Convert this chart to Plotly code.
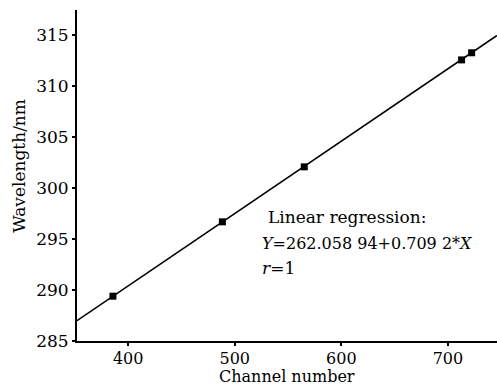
import plotly.graph_objects as go

channel = [385.7, 488.4, 565.2, 712.8, 722.2]
wavelength = [289.4, 296.7, 302.1, 312.6, 313.3]
fit_x = [352, 746]
fit_y = [287.0, 315.0]
x_ticks = [400, 500, 600, 700]
y_ticks = [285, 290, 295, 300, 305, 310, 315]

FONT = "DejaVu Serif"
FS = 17

fig = go.Figure()
fig.add_trace(go.Scatter(x=fit_x, y=fit_y, mode="lines",
                         line=dict(color="black", width=1.6), showlegend=False))
fig.add_trace(go.Scatter(x=channel, y=wavelength, mode="markers",
                         marker=dict(symbol="square", size=7, color="black"),
                         showlegend=False))

def ann(x, y, text, size=FS, **kw):
    fig.add_annotation(xref="paper", yref="paper", x=x, y=y, text=text, showarrow=False,
                       font=dict(family=FONT, size=size, color="black"), **kw)

ann(0.45, 0.375, "Linear regression:", xanchor="left", yanchor="middle")
ann(0.435, 0.296, "<i>Y</i>=262.058 94+0.709 2*<i>X</i>", size=16, xanchor="left", yanchor="middle")
ann(0.435, 0.22, "<i>r</i>=1", xanchor="left", yanchor="middle")
# axis titles
ann(0.5, -0.1072, "Channel number", size=16, xanchor="center", yanchor="middle", borderpad=0)
ann(-0.14, 0.53, "Wavelength/nm", xanchor="center", yanchor="middle", textangle=-90)

fig.update_layout(
    width=497, height=386,
    margin=dict(l=77, r=0, t=10, b=45),
    paper_bgcolor="white", plot_bgcolor="white",
    font=dict(family=FONT, size=FS, color="black"),
    xaxis=dict(range=[352, 746], tickvals=x_ticks, ticks="outside", ticklen=3,
               tickwidth=1.5, tickcolor="black", showline=True, linecolor="black",
               linewidth=2, showgrid=False, zeroline=False, ticklabelstandoff=-1,
               tickfont=dict(family=FONT, size=16, color="black")),
    yaxis=dict(range=[285, 317.5], tickvals=y_ticks, ticks="outside", ticklen=3,
               tickwidth=1.5, tickcolor="black", showline=True, linecolor="black",
               linewidth=2, showgrid=False, zeroline=False),
)

fig.write_html("out.html")
